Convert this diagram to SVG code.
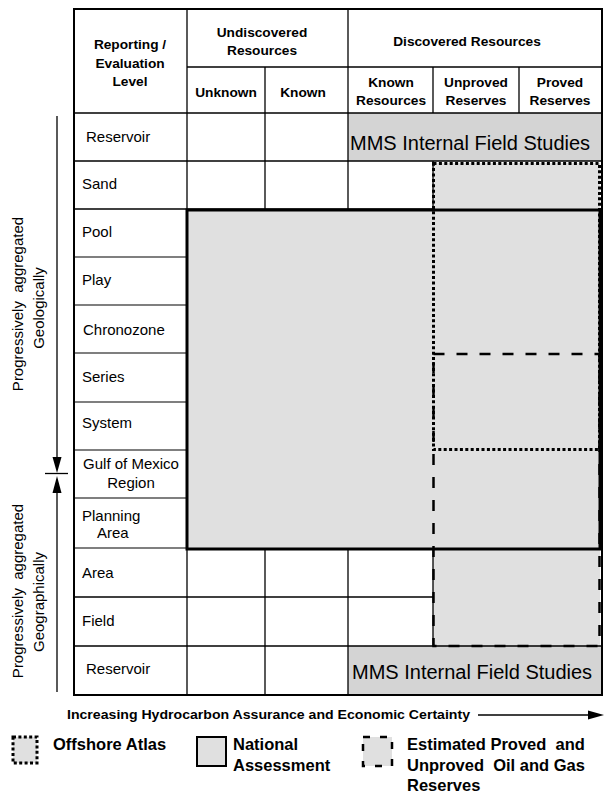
<svg xmlns="http://www.w3.org/2000/svg" width="614" height="793" viewBox="0 0 614 793">
<style>
text{font-family:"Liberation Sans",Arial,sans-serif;fill:#000}
.h{font-weight:bold;font-size:13.7px;text-anchor:middle}
.r{font-size:15px}
.c{text-anchor:middle}
.mms{font-size:20px}
.lg{font-weight:bold;font-size:16.5px}
.g{stroke:#000;stroke-width:1.3;fill:none}
.gl{stroke:#555;stroke-width:1.3;fill:none}
.dot{fill:none;stroke:#000;stroke-width:3;stroke-dasharray:3 2.4}
.dash{fill:none;stroke:#000;stroke-width:2.5;stroke-dasharray:11 12}
</style>
<rect width="614" height="793" fill="#fff"/>
<g id="fills">
<rect x="348" y="113" width="254" height="48" fill="#d4d4d4"/>
<rect x="348" y="646" width="254" height="49" fill="#d4d4d4"/>
<rect x="433" y="163" width="167" height="287" fill="#e0e0e0"/>
<rect x="433" y="354" width="167" height="292" fill="#e0e0e0"/>
<rect x="187" y="210" width="413" height="339" fill="#e0e0e0"/>
</g>
<g id="grid">
<line class="g" x1="187" y1="67" x2="602" y2="67"/>
<line class="g" x1="74" y1="113" x2="602" y2="113"/>
<line class="g" x1="265" y1="67" x2="265" y2="210"/>
<line class="g" x1="265" y1="549" x2="265" y2="695"/>
<line class="g" x1="348" y1="9" x2="348" y2="210"/>
<line class="g" x1="348" y1="549" x2="348" y2="695"/>
<line class="g" x1="433" y1="67" x2="433" y2="113"/>
<line class="g" x1="433" y1="161" x2="433" y2="210"/>
<line class="g" x1="433" y1="549" x2="433" y2="646"/>
<line class="g" x1="519" y1="67" x2="519" y2="113"/>
<line class="g" x1="187" y1="9" x2="187" y2="695"/>
<line class="g" x1="74" y1="161" x2="602" y2="161"/>
<line class="g" x1="74" y1="209" x2="433" y2="209"/>
<line class="gl" x1="74" y1="257" x2="187" y2="257"/>
<line class="gl" x1="74" y1="305" x2="187" y2="305"/>
<line class="gl" x1="74" y1="353" x2="187" y2="353"/>
<line class="gl" x1="74" y1="402" x2="187" y2="402"/>
<line class="gl" x1="74" y1="450" x2="187" y2="450"/>
<line class="gl" x1="74" y1="498" x2="187" y2="498"/>
<line class="gl" x1="74" y1="548" x2="187" y2="548"/>
<line class="g" x1="74" y1="597" x2="433" y2="597"/>
<line class="g" x1="74" y1="646" x2="602" y2="646"/>
<rect x="74" y="9" width="528" height="686" fill="none" stroke="#000" stroke-width="2"/>
</g>
<g id="national-assessment-box">
<rect x="187" y="210" width="413" height="339" fill="none" stroke="#000" stroke-width="3"/>
</g>
<g id="offshore-atlas-box">
<rect class="dot" x="433.5" y="163.5" width="166" height="286"/>
</g>
<g id="estimated-reserves-box">
<rect class="dash" x="433.5" y="354" width="166" height="292"/>
</g>
<g id="header">
<text class="h" x="130" y="49">Reporting /</text>
<text class="h" x="130" y="67.5">Evaluation</text>
<text class="h" x="130" y="86">Level</text>
<text class="h" x="262" y="37">Undiscovered</text>
<text class="h" x="262" y="55">Resources</text>
<text class="h" x="467" y="45.5">Discovered Resources</text>
<text class="h" x="226" y="96.5">Unknown</text>
<text class="h" x="303" y="96.5">Known</text>
<text class="h" x="391" y="87">Known</text>
<text class="h" x="391" y="105">Resources</text>
<text class="h" x="476" y="87">Unproved</text>
<text class="h" x="476" y="105">Reserves</text>
<text class="h" x="560" y="87">Proved</text>
<text class="h" x="560" y="105">Reserves</text>
</g>
<g id="row-labels">
<text class="r" x="86" y="142">Reservoir</text>
<text class="r" x="82" y="189">Sand</text>
<text class="r" x="82" y="237">Pool</text>
<text class="r" x="82" y="285">Play</text>
<text class="r" x="83" y="335">Chronozone</text>
<text class="r" x="82" y="382">Series</text>
<text class="r" x="82" y="428">System</text>
<text class="r c" x="131" y="469">Gulf of Mexico</text>
<text class="r c" x="131" y="488">Region</text>
<text class="r" x="82" y="521">Planning</text>
<text class="r" x="97" y="538">Area</text>
<text class="r" x="82" y="578">Area</text>
<text class="r" x="82" y="626">Field</text>
<text class="r" x="86" y="674">Reservoir</text>
</g>
<g id="mms-studies">
<text class="mms" x="350" y="150">MMS Internal Field Studies</text>
<text class="mms" x="352" y="679">MMS Internal Field Studies</text>
</g>
<g id="side-arrows">
<line x1="57" y1="116" x2="57" y2="460" stroke="#000" stroke-width="1.3"/>
<polygon points="52.5,457 61.5,457 57,473" fill="#000"/>
<line x1="45" y1="473.5" x2="68" y2="473.5" stroke="#000" stroke-width="1.3"/>
<polygon points="52.5,493 61.5,493 57,476" fill="#000"/>
<line x1="57" y1="490" x2="57" y2="692" stroke="#000" stroke-width="1.3"/>
<text class="r c" style="white-space:pre" transform="translate(23,304) rotate(-90)">Progressively  aggregated</text>
<text class="r c" transform="translate(44,308) rotate(-90)">Geologically</text>
<text class="r c" style="white-space:pre" transform="translate(23,591) rotate(-90)">Progressively  aggregated</text>
<text class="r c" transform="translate(44,602) rotate(-90)">Geographically</text>
</g>
<g id="bottom-axis">
<text x="67" y="719" font-weight="bold" font-size="13" textLength="403" lengthAdjust="spacingAndGlyphs">Increasing Hydrocarbon Assurance and Economic Certainty</text>
<line x1="478" y1="715" x2="592" y2="715" stroke="#000" stroke-width="1.3"/>
<polygon points="588,710.5 604,715 588,719.5" fill="#000"/>
</g>
<g id="legend">
<rect x="13" y="737" width="24" height="26" fill="#e0e0e0"/>
<rect class="dot" x="13" y="737" width="24" height="26"/>
<text class="lg" x="53" y="750">Offshore Atlas</text>
<rect x="197" y="737" width="29" height="29" fill="#e0e0e0" stroke="#000" stroke-width="2"/>
<text class="lg" x="233" y="750">National</text>
<text class="lg" x="233" y="771">Assessment</text>
<rect x="363" y="737" width="29" height="29" fill="#e0e0e0"/>
<rect x="363" y="737" width="29" height="29" fill="none" stroke="#000" stroke-width="2.5" stroke-dasharray="7 10"/>
<text class="lg" style="white-space:pre" x="407" y="750">Estimated Proved  and</text>
<text class="lg" style="white-space:pre" x="407" y="771">Unproved  Oil and Gas</text>
<text class="lg" x="407" y="791">Reserves</text>
</g>
</svg>
